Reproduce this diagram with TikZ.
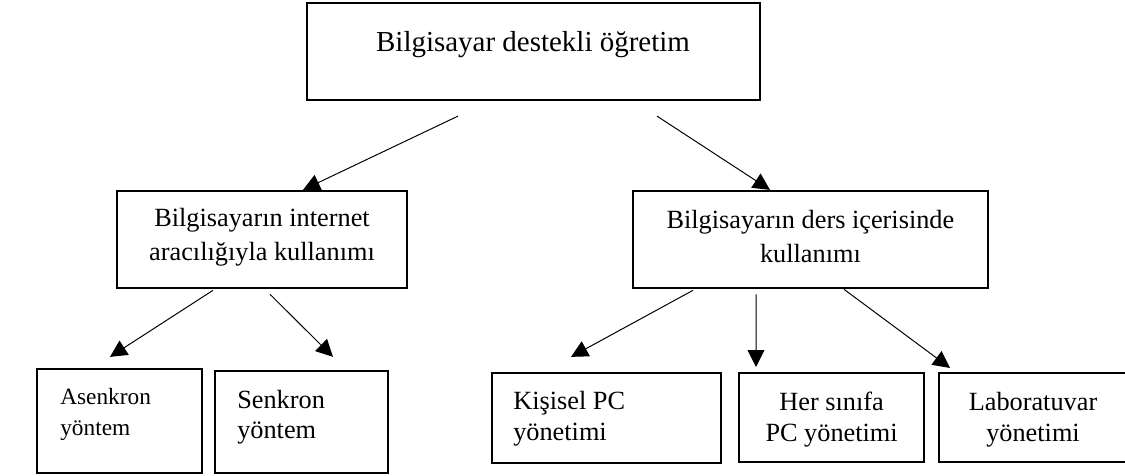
\documentclass[tikz,border=0pt]{standalone}
\usepackage{fontspec}
\setmainfont{Liberation Serif}
\usetikzlibrary{arrows.meta}

\tikzset{
    box/.style={draw=black,line width=1.6pt,inner sep=0pt},
    lbl/.style={inner sep=0pt,align=center,font=\fontsize{18.7}{24.2}\selectfont},
    lblleft/.style={inner sep=0pt,align=left,anchor=west,font=\fontsize{18.7}{22}\selectfont},
    lblbot/.style={inner sep=0pt,align=center,font=\fontsize{18.7}{22}\selectfont},
    arr/.style={line width=0.7pt,-{Triangle[length=12pt,width=12pt]}}
}

\begin{document}
\begin{tikzpicture}
                \useasboundingbox (0,0) rectangle (28.125,11.9);

                % boxes
                \node[box,minimum width=11.33cm,minimum height=2.43cm] (top) at (13.34,10.61) {};
                \node[box,minimum width=7.25cm,minimum height=2.43cm] (lmid) at (6.55,5.91) {};
                \node[box,minimum width=8.875cm,minimum height=2.43cm] (rmid) at (20.26,5.91) {};

                \node[box,minimum width=4.125cm,minimum height=2.6cm] (asen) at (2.99,1.375) {};
                \node[box,minimum width=4.325cm,minimum height=2.55cm] (senk) at (7.54,1.35) {};
                \node[box,minimum width=5.725cm,minimum height=2.25cm] (kisi) at (15.16,1.45) {};
                \node[box,minimum width=4.625cm,minimum height=2.225cm] (her) at (20.79,1.46) {};
                \node[box,minimum width=4.7cm,minimum height=2.225cm] (lab) at (25.825,1.46) {};

                % texts
                \node[lbl,font=\fontsize{20.6}{24}\selectfont] (top-t) at (13.325,10.78) {Bilgisayar destekli öğretim};
                \node[lbl] (lmid-t) at (6.55,5.975) {Bilgisayarın internet\\aracılığıyla kullanımı};
                \node[lbl] (rmid-t) at (20.26,5.975) {Bilgisayarın ders içerisinde\\kullanımı};

                \node[lblleft,font=\fontsize{16.6}{22}\selectfont] (asen-t) at (1.5,1.53) {Asenkron\\yöntem};
                \node[lblleft] (senk-t) at (5.925,1.47) {Senkron\\yöntem};
                \node[lblleft] (kisi-t) at (12.825,1.43) {Kişisel PC\\yönetimi};
                \node[lblbot] (her-t) at (20.79,1.41) {Her sınıfa\\PC yönetimi};
                \node[lblbot] (lab-t) at (25.825,1.41) {Laboratuvar\\yönetimi};

                % arrows
                \draw[arr] ([shift={(-1.89,-0.37)}]top.south) -- ([xshift=1.025cm]lmid.north);
                \draw[arr] ([shift={(3.085,-0.37)}]top.south) -- ([xshift=-1.01cm]rmid.north);

                \draw[arr] ([shift={(-1.225,-0.025)}]lmid.south) -- ([shift={(-0.24,0.275)}]asen.north);
                \draw[arr] ([shift={(0.2,-0.125)}]lmid.south) -- ([shift={(0.785,0.325)}]senk.north);

                \draw[arr] ([shift={(-2.935,-0.025)}]rmid.south) -- ([shift={(-0.885,0.375)}]kisi.north);
                \draw[arr] ([shift={(-1.36,-0.125)}]rmid.south) -- ([shift={(-1.89,0.125)}]her.north);
                \draw[arr] ([xshift=0.84cm]rmid.south) -- ([shift={(-2.075,0.1)}]lab.north);
            \end{tikzpicture}
\end{document}
